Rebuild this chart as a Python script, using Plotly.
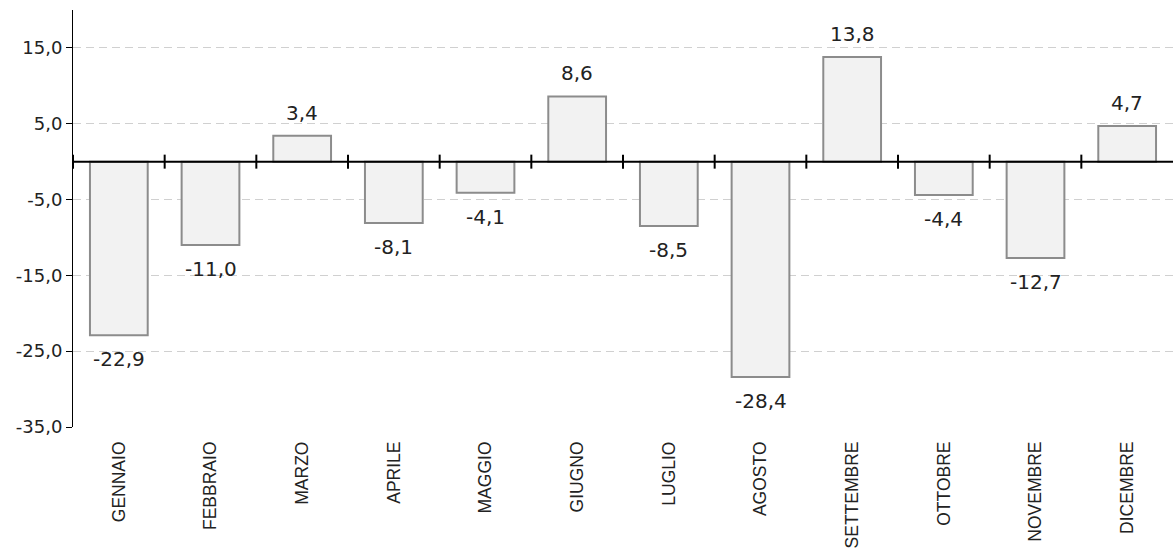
import plotly.graph_objects as go

months = ["GENNAIO", "FEBBRAIO", "MARZO", "APRILE", "MAGGIO", "GIUGNO",
          "LUGLIO", "AGOSTO", "SETTEMBRE", "OTTOBRE", "NOVEMBRE", "DICEMBRE"]
values = [-22.9, -11.0, 3.4, -8.1, -4.1, 8.6, -8.5, -28.4, 13.8, -4.4, -12.7, 4.7]
y_ticks = [-35, -25, -15, -5, 5, 15]

labels = [f"{v:.1f}".replace(".", ",") for v in values]
y_tick_text = [f"{v:.1f}".replace(".", ",") for v in y_ticks]

x_idx = list(range(len(months)))

fig = go.Figure(go.Bar(
    x=x_idx, y=values,
    marker=dict(color="#f2f2f2", line=dict(color="#8c8c8c", width=2)),
    cliponaxis=False, width=0.63, hoverinfo="skip",
))

annotations = []
for i, (v, t) in enumerate(zip(values, labels)):
    annotations.append(dict(
        x=i, y=v, xref="x", yref="y", text=t, showarrow=False,
        yanchor="middle", yshift=23 if v >= 0 else -24,
        font=dict(family="DejaVu Sans", size=20, color="#222222"),
    ))

shapes = [dict(type="line", xref="paper", yref="y", x0=0, x1=1, y0=0, y1=0,
               line=dict(color="#000000", width=2), layer="above")]
for i in range(len(months) - 1):
    shapes.append(dict(type="line", xref="x", yref="y", x0=i - 0.5, x1=i - 0.5,
                       ysizemode="pixel", yanchor=0, y0=-7, y1=7,
                       line=dict(color="#000000", width=2), layer="above"))
shapes.append(dict(type="line", xref="x", yref="y", x0=10.5, x1=10.5,
                   ysizemode="pixel", yanchor=0, y0=-7, y1=7,
                   line=dict(color="#000000", width=2), layer="above"))

fig.update_layout(
    width=1173, height=553,
    margin=dict(l=73, r=0, t=10, b=126, autoexpand=False),
    plot_bgcolor="white", paper_bgcolor="white",
    showlegend=False,
    shapes=shapes,
    annotations=annotations,
    xaxis=dict(
        range=[-0.5, 11.5], automargin=False,
        tickmode="array", tickvals=x_idx, ticktext=months,
        tickangle=-90, showgrid=False, showline=False, zeroline=False, ticks="",
        ticklabelstandoff=10,
        tickfont=dict(family="Liberation Sans", size=17.5, color="#222222"),
    ),
    yaxis=dict(
        range=[-35, 20], automargin=False,
        tickmode="array", tickvals=y_ticks, ticktext=y_tick_text,
        showline=True, linecolor="#000000", linewidth=1,
        ticks="outside", ticklen=6, tickcolor="#000000",
        showgrid=True, gridcolor="#d0d0d0", griddash="8px,5px", gridwidth=1,
        zeroline=False,
        tickfont=dict(family="DejaVu Sans", size=18, color="#222222"),
    ),
)

fig.write_html("out.html", config={"displayModeBar": False},
               post_script="document.body.style.margin='0';document.body.style.overflow='hidden';")
